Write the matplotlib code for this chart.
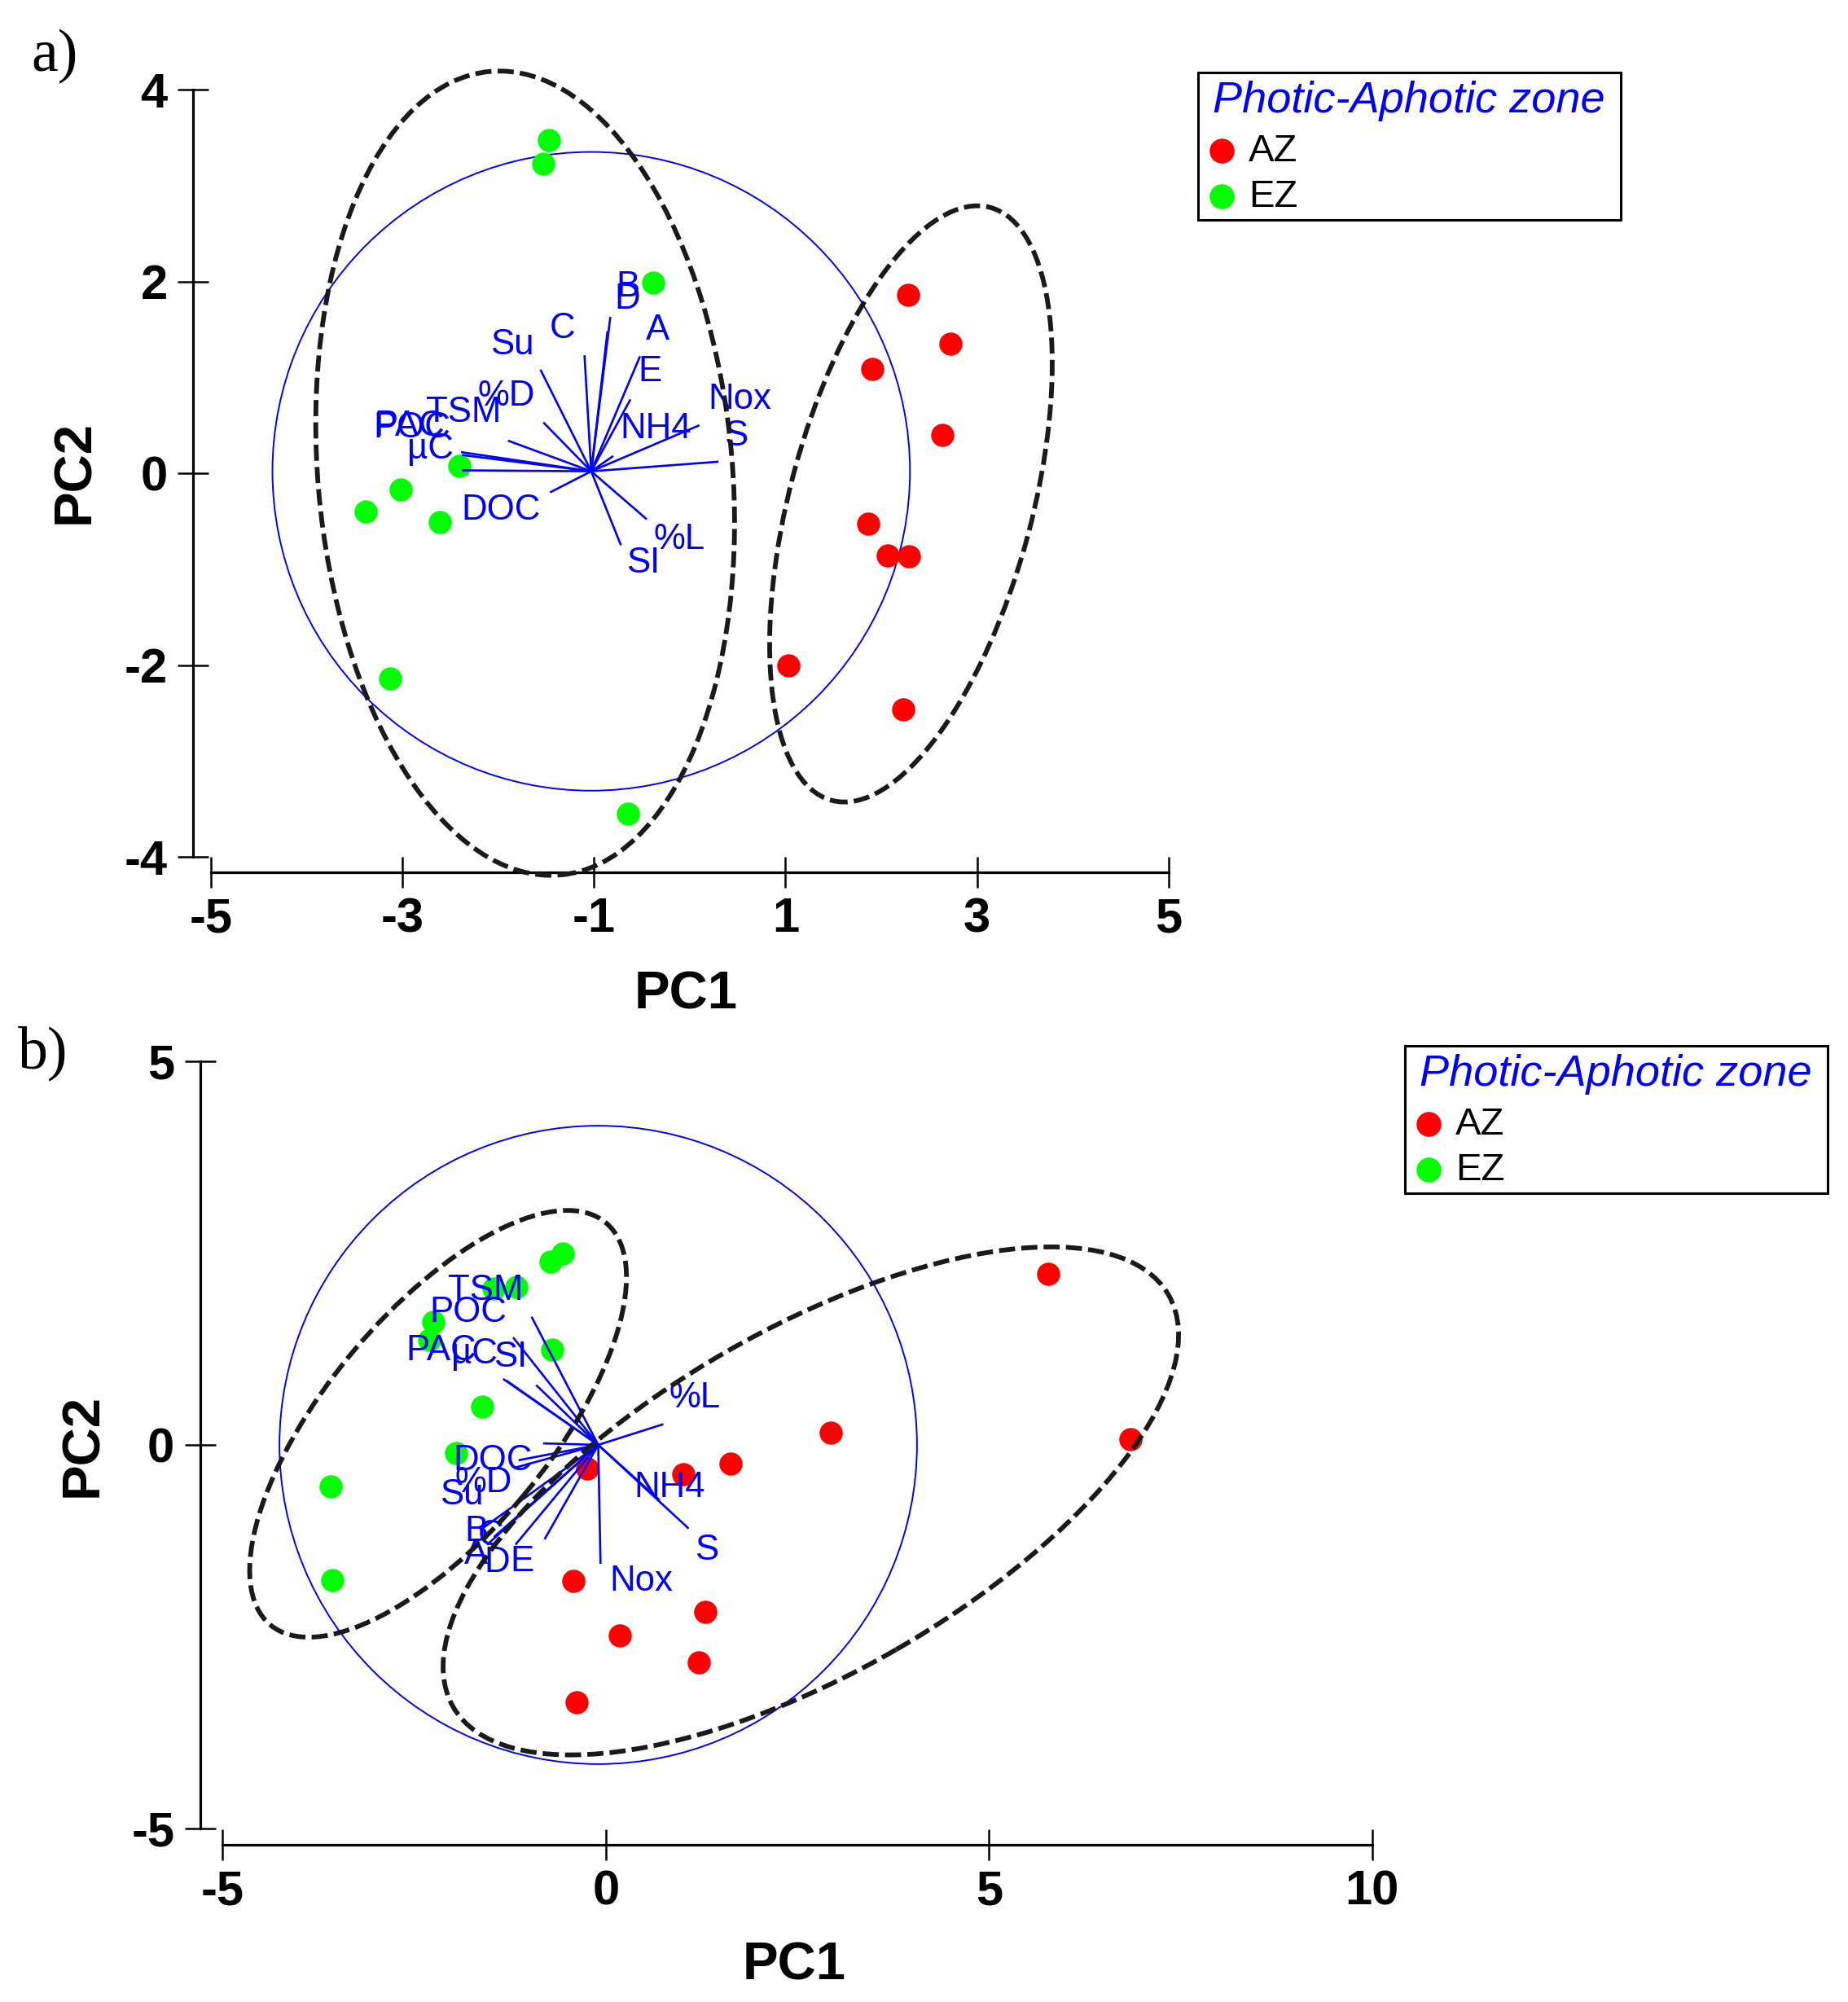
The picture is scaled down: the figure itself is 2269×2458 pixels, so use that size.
import matplotlib
matplotlib.use("Agg")
import matplotlib.pyplot as plt
from matplotlib.patches import Ellipse, Rectangle
from matplotlib.lines import Line2D

plt.rcParams['axes.unicode_minus'] = False

W, H = 2269, 2458

zone_labels = ['AZ', 'EZ']
zone_colors = ['#ff0000', '#00ff00']
var_names = ['A', 'B', 'C', 'D', 'E', 'Su', '%D', '%L', 'TSM', 'POC',
             'PAC', 'µC', 'DOC', 'SI', 'NH4', 'S', 'Nox']

# ---------------- panel a ----------------
a_az_x = [2.28, 2.72, 1.91, 2.64, 1.86, 2.07, 2.29, 1.03, 2.23]
a_az_y = [1.86, 1.35, 1.09, 0.40, -0.53, -0.86, -0.87, -2.00, -2.46]
a_ez_x = [-1.47, -1.53, -0.38, -2.41, -3.02, -3.39, -2.61, -3.13, -0.65]
a_ez_y = [3.47, 3.23, 1.99, 0.08, -0.17, -0.40, -0.51, -2.14, -3.55]

a_origin = (-1.03, 0.02)
a_circle_r = 3.33
a_vec_x = [-0.52, -0.83, -1.10, -0.86, -0.62, -1.56, -1.53, -0.45, -1.90, -2.39,
           -2.38, -2.38, -1.46, -0.72, -0.80, 0.30, 0.10]
a_vec_y = [1.22, 1.63, 1.23, 1.48, 0.77, 1.08, 0.53, -0.48, 0.34, 0.22,
           0.19, 0.03, -0.20, -0.75, 0.18, 0.12, 0.50]
a_lab_x = [-0.34, -0.65, -1.33, -0.65, -0.42, -1.86, -1.92, -0.11, -2.36, -2.90,
           -2.93, -2.71, -1.97, -0.49, -0.36, 0.48, 0.52]
a_lab_y = [1.49, 1.94, 1.51, 1.81, 1.06, 1.34, 0.80, -0.69, 0.63, 0.47,
           0.49, 0.25, -0.39, -0.94, 0.46, 0.39, 0.77]
# groups: centre x, centre y, width, height, angle
a_ell = [(-1.72, 0.0, 4.33, 8.41, 5.0),
         (2.31, -0.32, 2.53, 6.40, -15.0)]

# ---------------- panel b ----------------
b_az_x = [5.77, 6.85, 2.94, 1.63, 1.01, -0.24, -0.42, 1.30, 0.18, 1.21, -0.38]
b_az_y = [2.23, 0.07, 0.16, -0.24, -0.38, -0.31, -1.77, -2.18, -2.48, -2.83, -3.35]
b_ez_x = [-0.56, -0.72, -1.17, -1.47, -2.25, -2.31, -0.70, -1.61, -1.95, -3.59, -3.57]
b_ez_y = [2.50, 2.39, 2.06, 2.04, 1.60, 1.37, 1.24, 0.50, -0.11, -0.54, -1.76]

b_origin = (-0.10, 0.0)
b_circle_r = 4.16
b_vec_x = [-1.55, -1.64, -1.46, -1.18, -0.80, -1.20, -1.14, 0.75, -0.97, -1.21,
           -1.34, -1.30, -0.82, -0.91, 0.70, 1.08, -0.07]
b_vec_y = [-1.30, -1.11, -1.20, -1.30, -1.23, -0.30, -0.20, 0.27, 1.67, 1.40,
           0.86, 0.84, 0.02, 0.78, -0.72, -1.09, -1.55]
b_lab_x = [-1.69, -1.69, -1.50, -1.42, -1.09, -1.88, -1.60, 1.16, -1.57, -1.80,
           -2.15, -1.72, -1.48, -1.25, 0.83, 1.31, 0.46]
b_lab_y = [-1.43, -1.13, -1.18, -1.53, -1.52, -0.65, -0.49, 0.61, 2.01, 1.72,
           1.23, 1.18, -0.21, 1.14, -0.56, -1.37, -1.78]
b_ell = [(-2.19, 0.275, 6.83, 2.91, 50.1),
         (2.675, -0.73, 10.77, 4.47, 29.9)]


fig = plt.figure(figsize=(W / 100, H / 100), dpi=100)


def draw_panel(ax, az, ez, origin, r, vx, vy, lx, ly, ells, xlim, ylim,
               xticks, yticks, off_left, off_bottom):
    ax.add_patch(Ellipse(origin, 2 * r, 2 * r, fill=False, ec='#0000ff', lw=1.4, zorder=1))
    ax.plot(az[0], az[1], 'o', color=zone_colors[0], ms=20.5, mec='none', zorder=2)
    ax.plot(ez[0], ez[1], 'o', color=zone_colors[1], ms=20.5, mec='none', zorder=2)
    for x, y in zip(vx, vy):
        ax.plot([origin[0], x], [origin[1], y], color='#0000ff', lw=1.9, zorder=3,
                solid_capstyle='butt')
    for name, x, y in zip(var_names, lx, ly):
        ax.text(x, y, name, color='#0000ff', fontsize=31.5, ha='center', va='center',
                family='Liberation Sans', zorder=4)
    for cx, cy, w, h, ang in ells:
        ax.add_patch(Ellipse((cx, cy), w, h, angle=ang, fill=False, ec='#1a1a1a',
                             lw=4.2, ls=(0, (3.4, 1.3)), clip_on=False, zorder=5))
    ax.set_xlim(*xlim)
    ax.set_ylim(*ylim)
    ax.set_xticks(xticks)
    ax.set_yticks(yticks)
    for s in ['top', 'right']:
        ax.spines[s].set_visible(False)
    ax.spines['left'].set_position(('outward', off_left))
    ax.spines['bottom'].set_position(('outward', off_bottom))
    for s in ['left', 'bottom']:
        ax.spines[s].set_linewidth(2.3)
    ax.tick_params(direction='inout', length=27.5, width=1.8)
    ax.tick_params(axis='x', pad=8)
    ax.tick_params(axis='y', pad=9)
    for t in ax.get_xticklabels() + ax.get_yticklabels():
        t.set_fontfamily('Liberation Sans')
        t.set_fontweight('bold')
        t.set_fontsize(43)
    ax.set_xlabel('PC1', fontsize=47, fontweight='bold', family='Liberation Sans')
    ax.set_ylabel('PC2', fontsize=47, fontweight='bold', family='Liberation Sans')
    ax.patch.set_visible(False)


def zone_legend(left, top):
    fx = lambda px: px / W
    fy = lambda py: 1 - py / H
    fig.add_artist(Rectangle((fx(left), fy(top + 181)), 519 / W, 181 / H,
                             transform=fig.transFigure, fill=False, ec='black', lw=2.2))
    fig.text(fx(left + 18), fy(top + 49), 'Photic-Aphotic zone', color='#0000ff',
             style='italic', fontsize=39, ha='left', va='baseline', family='Liberation Sans')
    for i, (lab, col) in enumerate(zip(zone_labels, zone_colors)):
        yc = top + 96 + 56 * i
        fig.add_artist(Line2D([fx(left + 29)], [fy(yc)], transform=fig.transFigure,
                              marker='o', ms=22, color=col, mec='none', ls=''))
        fig.text(fx(left + 62), fy(yc + 13), lab, fontsize=34, ha='left', va='baseline',
                 family='Liberation Sans')


ax_a = fig.add_axes([259.3 / W, 1 - 1052 / H, 1175.3 / W, 942 / H])
draw_panel(ax_a, (a_az_x, a_az_y), (a_ez_x, a_ez_y), a_origin, a_circle_r,
           a_vec_x, a_vec_y, a_lab_x, a_lab_y, a_ell, (-5, 5), (-4, 4),
           [-5, -3, -1, 1, 3, 5], [-4, -2, 0, 2, 4], 15.8, 13.7)
ax_a.xaxis.set_label_coords(0.496, -0.1476)
ax_a.yaxis.set_label_coords(-0.1167, 0.502)

ax_b = fig.add_axes([273.5 / W, 1 - 2245 / H, 1411.2 / W, 942 / H])
draw_panel(ax_b, (b_az_x, b_az_y), (b_ez_x, b_ez_y), b_origin, b_circle_r,
           b_vec_x, b_vec_y, b_lab_x, b_lab_y, b_ell, (-5, 10), (-5, 5),
           [-5, 0, 5, 10], [-5, 0, 5], 20.0, 14.4)
ax_b.xaxis.set_label_coords(0.497, -0.1465)
ax_b.yaxis.set_label_coords(-0.1003, 0.5)

zone_legend(1471, 89)
zone_legend(1725, 1284)

fig.text(38 / W, 1 - 87 / H, 'a)', fontsize=53, family='Liberation Serif', va='baseline')
fig.text(22 / W, 1 - 1311 / H, 'b)', fontsize=53, family='Liberation Serif', va='baseline')

fig.savefig('out.png', dpi=100)
